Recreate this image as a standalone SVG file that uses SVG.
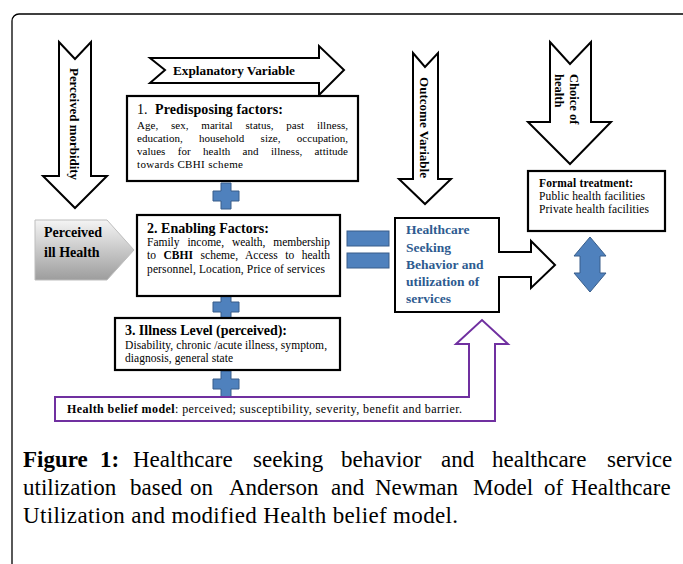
<svg xmlns="http://www.w3.org/2000/svg" width="683" height="564" viewBox="0 0 683 564">
<defs>
<style>
.ser{font-family:"Liberation Serif","Times New Roman",serif;fill:#000}
.b{font-weight:bold}
.outline{fill:#fff;stroke:#000;stroke-width:2;stroke-linejoin:miter}
.box{fill:#fff;stroke:#000;stroke-width:2.2}
.blue{fill:#4F81BD;stroke:#385D8A;stroke-width:1}
.hs{fill:#2E5B90;font-weight:bold}
</style>
<linearGradient id="grayg" x1="0" y1="0" x2="0" y2="1">
<stop offset="0" stop-color="#f4f4f4"/>
<stop offset="1" stop-color="#9d9d9d"/>
</linearGradient>
<path id="plus" d="M-5 -13 H5 V-5 H13 V5 H5 V13 H-5 V5 H-13 V-5 H-5 Z"/>
</defs>
<rect width="683" height="564" fill="#fff"/>
<rect x="12" y="14" width="700" height="600" rx="7" fill="none" stroke="#000" stroke-width="1.3"/>

<g id="connectors">
<use href="#plus" class="blue" x="226" y="196"/>
<use href="#plus" class="blue" x="226" y="307"/>
<use href="#plus" class="blue" x="226" y="384"/>
<rect class="blue" x="347" y="231" width="42" height="15"/>
<rect class="blue" x="347" y="253" width="42" height="15"/>
<path class="blue" d="M590 237 L606 256 L600 256 L600 273 L606 273 L590 292 L574 273 L580 273 L580 256 L574 256 Z"/>
</g>

<g id="perceived-morbidity">
<path class="outline" d="M59 42 L75 59 L91 42 L91 176 L107 176 L75 208 L43 176 L59 176 Z"/>
<text class="ser b" font-size="13" transform="translate(70,68) rotate(90)" textLength="112" lengthAdjust="spacingAndGlyphs">Perceived morbidity</text>
</g>

<g id="explanatory-variable">
<path class="outline" d="M150 58 L319 58 L319 46 L344 70 L319 95 L319 83 L150 83 L165 70 Z"/>
<text class="ser b" font-size="12.5" x="173" y="75" textLength="122" lengthAdjust="spacingAndGlyphs">Explanatory Variable</text>
</g>

<g id="outcome-variable">
<path class="outline" d="M413 53 L425 67 L438 53 L438 179 L451 179 L425 204 L399 179 L413 179 Z"/>
<text class="ser b" font-size="12.5" transform="translate(420,77) rotate(90)" textLength="101" lengthAdjust="spacingAndGlyphs">Outcome Variable</text>
</g>

<g id="choice-of-health">
<path class="outline" d="M550 42 L570 64 L591 42 L591 122 L611 122 L570 164 L528 122 L550 122 Z"/>
<text class="ser b" font-size="12.5" transform="translate(570,74) rotate(90)">Choice of</text>
<text class="ser b" font-size="12.5" transform="translate(555,74) rotate(90)">health</text>
</g>

<g id="predisposing">
<rect class="box" x="127" y="96" width="231" height="85"/>
<text class="ser" font-size="14" x="137" y="114">1.</text>
<text class="ser b" font-size="14" x="155" y="114" textLength="128" lengthAdjust="spacing">Predisposing factors:</text>
<g class="ser" font-size="11">
<text x="137" y="129" word-spacing="10" textLength="211" lengthAdjust="spacing">Age, sex, marital status, past illness,</text>
<text x="137" y="142" word-spacing="13.5" textLength="211" lengthAdjust="spacing">education, household size, occupation,</text>
<text x="137" y="155" word-spacing="9.5" textLength="211" lengthAdjust="spacing">values for health and illness, attitude</text>
<text x="137" y="168" textLength="106" lengthAdjust="spacing">towards CBHI scheme</text>
</g>
</g>

<g id="perceived-ill-health">
<path d="M35 220 L107 220 L134 250 L107 280 L35 280 Z" fill="url(#grayg)" stroke="#bdbdbd" stroke-width="1"/>
<text class="ser b" font-size="14" x="44" y="237">Perceived</text>
<text class="ser b" font-size="14" x="44" y="257">ill Health</text>
</g>

<g id="enabling">
<rect class="box" x="137" y="215" width="203" height="81"/>
<text class="ser b" font-size="14" x="147" y="233" textLength="122" lengthAdjust="spacing">2. Enabling Factors:</text>
<g class="ser" font-size="11.5">
<text x="147" y="246" word-spacing="5" textLength="183" lengthAdjust="spacing">Family income, wealth, membership</text>
<text x="147" y="259" word-spacing="4.5" textLength="183" lengthAdjust="spacing">to <tspan font-weight="bold">CBHI</tspan> scheme, Access to health</text>
<text x="147" y="273" textLength="178" lengthAdjust="spacing">personnel, Location, Price of services</text>
</g>
</g>

<g id="illness-level">
<rect class="box" x="115" y="318" width="225" height="52"/>
<text class="ser b" font-size="14" x="125" y="335" textLength="162" lengthAdjust="spacing">3. Illness Level (perceived):</text>
<g class="ser" font-size="11.5">
<text x="125" y="349" textLength="202" lengthAdjust="spacing">Disability, chronic /acute illness, symptom,</text>
<text x="125" y="362" textLength="108" lengthAdjust="spacing">diagnosis, general state</text>
</g>
</g>

<g id="health-belief-model">
<path d="M55 397 L469 397 L469 344 L456 344 L482 320 L508 344 L495 344 L495 421 L55 421 Z" fill="#fff" stroke="#7030A0" stroke-width="2"/>
<text class="ser" font-size="12" x="67" y="413" textLength="395" lengthAdjust="spacing"><tspan font-weight="bold">Health belief model</tspan>: perceived; susceptibility, severity, benefit and barrier.</text>
</g>

<g id="healthcare-seeking">
<path class="outline" stroke-width="2.2" d="M395 218 L499 218 L499 252 L531 252 L531 241 L555 265 L531 288 L531 277 L499 277 L499 312 L395 312 Z"/>
<g class="ser hs" font-size="13.5">
<text x="406" y="234">Healthcare</text>
<text x="406" y="252">Seeking</text>
<text x="406" y="269">Behavior and</text>
<text x="406" y="286">utilization of</text>
<text x="406" y="303">services</text>
</g>
</g>

<g id="formal-treatment">
<rect class="box" x="528" y="171" width="137" height="60"/>
<text class="ser b" font-size="11.5" x="539" y="187" textLength="94" lengthAdjust="spacing">Formal treatment:</text>
<text class="ser" font-size="11.5" x="539" y="200" textLength="106" lengthAdjust="spacing">Public health facilities</text>
<text class="ser" font-size="11.5" x="539" y="213" textLength="110" lengthAdjust="spacing">Private health facilities</text>
</g>

<g id="caption" class="ser" font-size="23">
<text y="467"><tspan x="23" font-weight="bold">Figure</tspan><tspan x="100" font-weight="bold">1:</tspan><tspan x="133">Healthcare</tspan><tspan x="253">seeking</tspan><tspan x="341">behavior</tspan><tspan x="441">and</tspan><tspan x="492">healthcare</tspan><tspan x="607">service</tspan></text>
<text y="495"><tspan x="23">utilization</tspan><tspan x="130">based</tspan><tspan x="190">on</tspan><tspan x="229">Anderson</tspan><tspan x="331">and</tspan><tspan x="375">Newman</tspan><tspan x="473">Model</tspan><tspan x="544">of</tspan><tspan x="571">Healthcare</tspan></text>
<text x="23" y="523" textLength="435" lengthAdjust="spacing">Utilization and modified Health belief model.</text>
</g>
</svg>
